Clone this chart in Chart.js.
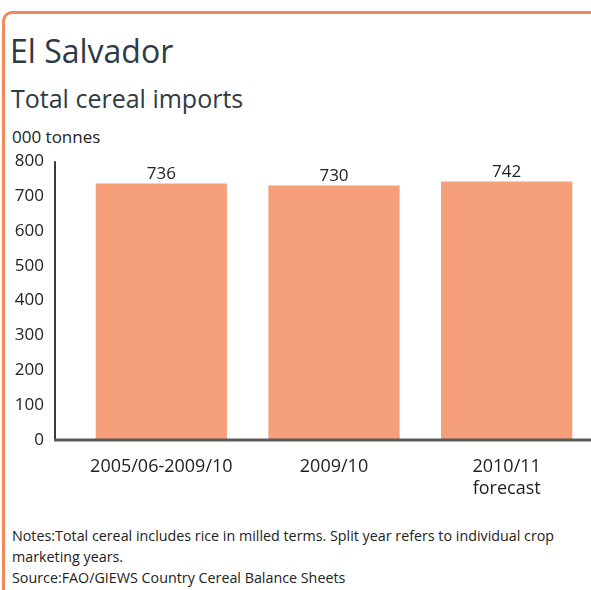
<!DOCTYPE html>
<html>
<head>
<meta charset="utf-8">
<script src="https://cdn.jsdelivr.net/npm/chart.js@4.4.0/dist/chart.umd.min.js"></script>
<style>
  html, body { margin: 0; padding: 0; background: #fff; overflow: hidden; }
  body { width: 591px; height: 590px; position: relative; font-family: "Open Sans", sans-serif; }
  .frame {
    position: absolute; left: 2px; top: 11px; width: 620px; height: 620px;
    border-top: 3px solid #f08a58; border-left: 3px solid #f08a58;
    border-top-left-radius: 10px;
  }
  .title { position: absolute; left: 10px; top: 31px; font-size: 32px; line-height: 40px; color: #2f3a45; }
  .subtitle { position: absolute; left: 11px; top: 83px; font-size: 25px; line-height: 30px; color: #2f3a45; }
  .unit { position: absolute; left: 12px; top: 127px; font-size: 17px; line-height: 20px; color: #222; }
  .notes { position: absolute; left: 12px; top: 526px; font-size: 14.3px; color: #222; line-height: 20.8px; width: 570px; }
  #wrap { position: absolute; left: 0; top: 120px; width: 593px; height: 390px; }
</style>
</head>
<body>
<div class="frame"></div>
<div class="title">El Salvador</div>
<div class="subtitle">Total cereal imports</div>
<div class="unit">000 tonnes</div>
<div id="wrap"><canvas id="chart"></canvas></div>
<div class="notes">Notes:Total cereal includes rice in milled terms. Split year refers to individual crop marketing years.<br>Source:FAO/GIEWS Country Cereal Balance Sheets</div>

<script>
// Data
const categories = ["2005/06-2009/10", "2009/10", ["2010/11", "forecast"]];
const imports = [736, 730, 742];
const yTicks = [0, 100, 200, 300, 400, 500, 600, 700, 800];

// Axis lines, y axis sits a bit left of the first category
const axisLines = {
  id: "axisLines",
  afterDraw(chart) {
    const c = chart.ctx;
    const y = chart.scales.y;
    const x0 = chart.chartArea.left - 20;
    c.save();
    c.strokeStyle = "#3a3a3a";
    c.lineWidth = 2;
    c.beginPath();
    c.moveTo(x0, y.getPixelForValue(800));
    c.lineTo(x0, y.getPixelForValue(0));
    c.stroke();
    c.strokeStyle = "#5a5a5a";
    c.lineWidth = 3;
    c.beginPath();
    c.moveTo(x0 - 1, y.getPixelForValue(0));
    c.lineTo(chart.width, y.getPixelForValue(0));
    c.stroke();
    c.restore();
  }
};

// Value labels above the bars
const valueLabels = {
  id: "valueLabels",
  afterDatasetsDraw(chart) {
    const c = chart.ctx;
    const meta = chart.getDatasetMeta(0);
    c.save();
    c.fillStyle = "#222";
    c.font = "17px 'Open Sans'";
    c.textAlign = "center";
    c.textBaseline = "bottom";
    meta.data.forEach((bar, i) => {
      c.fillText(imports[i], bar.x, bar.y - 1);
    });
    c.restore();
  }
};

new Chart(document.getElementById("chart"), {
  type: "bar",
  data: {
    labels: categories,
    datasets: [{
      data: imports,
      backgroundColor: "#f5a07a",
      categoryPercentage: 1,
      barPercentage: 0.76
    }]
  },
  options: {
    responsive: true,
    maintainAspectRatio: false,
    animation: false,
    layout: { padding: { top: 0, left: 0, right: 0, bottom: 0 } },
    plugins: {
      legend: { display: false },
      tooltip: { enabled: false }
    },
    scales: {
      x: {
        grid: { display: false, drawTicks: false },
        border: { display: false },
        ticks: {
          color: "#222",
          font: { family: "Open Sans", size: 18, lineHeight: 1.22 },
          padding: 16,
          maxRotation: 0,
          autoSkip: false
        },
        afterFit(scale) { scale.height = 70; }
      },
      y: {
        min: 0,
        max: 800,
        grid: { display: false, drawTicks: false },
        border: { display: false },
        afterBuildTicks(scale) { scale.ticks = yTicks.map(v => ({ value: v })); },
        ticks: {
          color: "#222",
          font: { family: "Open Sans", size: 17 },
          padding: 31
        },
        afterFit(scale) { scale.width = 75; }
      }
    }
  },
  plugins: [axisLines, valueLabels]
});
</script>
</body>
</html>
